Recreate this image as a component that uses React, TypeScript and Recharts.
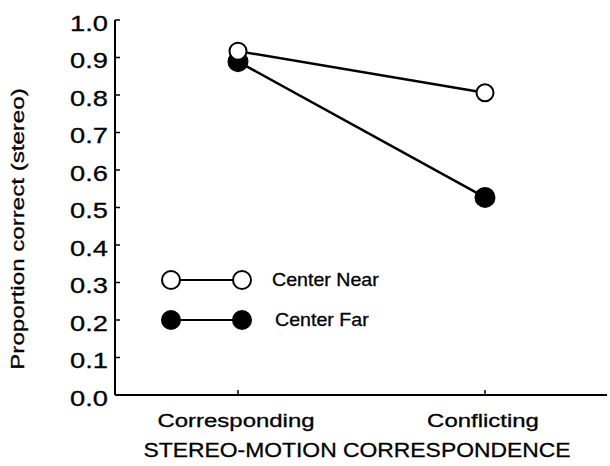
import { LineChart, Line, XAxis, YAxis, Legend } from "recharts"

const FONT = "'Liberation Sans', Arial, Helvetica, sans-serif"

// stereo-motion correspondence conditions
const conditions = ["Corresponding", "Conflicting"]
const centerNear = [0.917, 0.806]
const centerFar = [0.889, 0.527]
const yTicks = [0, 0.1, 0.2, 0.3, 0.4, 0.5, 0.6, 0.7, 0.8, 0.9, 1.0]

const SERIES = [
  { key: "near", name: "Center Near", fill: "#fff", r: 8.5 },
  { key: "far", name: "Center Far", fill: "#000", r: 9.5 },
]

const data = conditions.map((condition, i) => ({
  condition,
  near: centerNear[i],
  far: centerFar[i],
}))

// scanned print looks a bit heavier than plain regular weight
const ink = { fill: "#000", stroke: "#000", strokeWidth: 0.3 }

function YTick({ x, y, payload }: any) {
  return (
    <text
      transform={`translate(${x},${y + 10.5}) scale(1.24,1)`}
      textAnchor="end"
      fontSize={22}
      fontFamily={FONT}
      {...ink}
    >
      {Number(payload.value).toFixed(1)}
    </text>
  )
}

function XTick({ x, y, payload }: any) {
  return (
    <text
      transform={`translate(${x - 2},${y + 32}) scale(1.26,1)`}
      textAnchor="middle"
      fontSize={19}
      fontFamily={FONT}
      {...ink}
    >
      {payload.value}
    </text>
  )
}

function XTitle({ viewBox }: any) {
  const cx = viewBox.x + viewBox.width / 2 - 4
  return (
    <text
      transform={`translate(${cx},${viewBox.y + 62}) scale(1.09,1)`}
      textAnchor="middle"
      fontSize={21}
      fontFamily={FONT}
      {...ink}
    >
      STEREO-MOTION CORRESPONDENCE
    </text>
  )
}

function YTitle({ viewBox }: any) {
  const cy = viewBox.y + viewBox.height / 2 + 21.5
  return (
    <text
      transform={`translate(${viewBox.x + 24},${cy}) rotate(-90) scale(1.27,1)`}
      textAnchor="middle"
      fontSize={19}
      fontFamily={FONT}
      {...ink}
    >
      Proportion correct (stereo)
    </text>
  )
}

function LegendBox({ payload }: any) {
  const items = SERIES.filter((s) => (payload || []).some((p: any) => p.dataKey === s.key))
  return (
    <svg width={260} height={80} style={{ display: "block" }}>
      {items.map((s, i) => {
        const cy = 20 + i * 40
        return (
          <g key={s.key}>
            <line x1={21} x2={92} y1={cy} y2={cy} stroke="#000" strokeWidth={2} />
            <circle cx={21} cy={cy} r={9} fill={s.fill} stroke="#000" strokeWidth={2} />
            <circle cx={92} cy={cy} r={9} fill={s.fill} stroke="#000" strokeWidth={2} />
            <text
              transform={`translate(${i === 0 ? 122 : 125},${cy + 6}) scale(1.09,1)`}
              fontSize={18}
              fontFamily={FONT}
              {...ink}
            >
              {s.name}
            </text>
          </g>
        )
      })}
    </svg>
  )
}

export default function App() {
  // far first so the open circles sit on top
  const drawOrder = [SERIES[1], SERIES[0]]
  return (
    <div style={{ position: "absolute", left: 0, top: 0, background: "#fff" }}>
      <LineChart width={610} height={466} data={data} margin={{ top: 20, right: 3, left: 0, bottom: 0 }}>
        <XAxis
          dataKey="condition"
          height={71}
          padding={{ left: 123, right: 122 }}
          axisLine={{ stroke: "#000", strokeWidth: 2 }}
          tickLine={{ stroke: "#000", strokeWidth: 1.5 }}
          tickSize={-5}
          tickMargin={5}
          tick={<XTick />}
          label={<XTitle />}
        />
        <YAxis
          width={115}
          domain={[0, 1]}
          ticks={yTicks}
          interval={0}
          axisLine={{ stroke: "#000", strokeWidth: 2 }}
          tickLine={{ stroke: "#000", strokeWidth: 1.5 }}
          tickSize={-5}
          tickMargin={12}
          tick={<YTick />}
          label={<YTitle />}
        />
        <Legend
          layout="vertical"
          align="center"
          verticalAlign="middle"
          content={<LegendBox />}
          wrapperStyle={{ left: 150, top: 260, width: 260, height: 80 }}
        />
        {drawOrder.map((s) => (
          <Line
            key={s.key}
            type="linear"
            dataKey={s.key}
            name={s.name}
            stroke="#000"
            strokeWidth={2.5}
            dot={{ r: s.r, fill: s.fill, stroke: "#000", strokeWidth: 2 }}
            activeDot={false}
            isAnimationActive={false}
          />
        ))}
      </LineChart>
    </div>
  )
}
